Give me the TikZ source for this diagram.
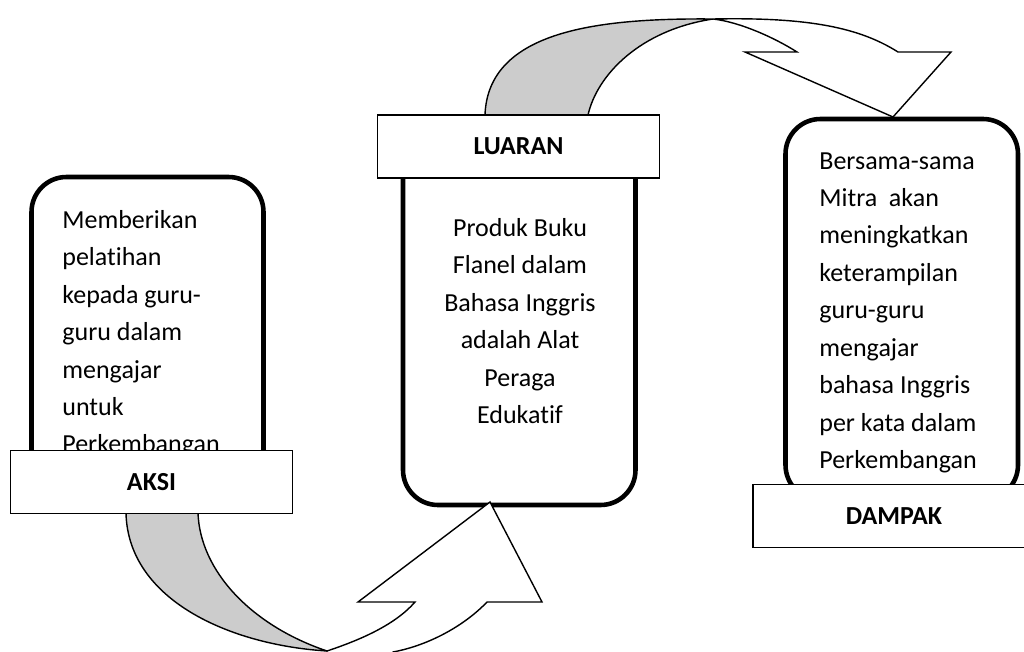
\documentclass[tikz,border=0pt]{standalone}
\usepackage{fontspec}
\setmainfont{Carlito}[Ligatures={NoCommon}]
\definecolor{bandgray}{RGB}{204,204,204}

\begin{document}
\begin{tikzpicture}[x=0.02cm,y=-0.02cm,
  mainbox/.style={draw,line width=2.6pt,rounded corners=0.7cm},
  labelbox/.style={draw,line width=0.8pt,fill=white,minimum width=5.64cm,
    minimum height=1.26cm,font=\fontsize{14.8}{18}\selectfont\bfseries},
  bodytext/.style={inner sep=0pt,font=\fontsize{14.8}{21.3}\selectfont},
  arrowline/.style={draw,line width=0.8pt,line join=miter}]

\path[use as bounding box,clip] (0,0) rectangle (1024,652);

% Rounded boxes
\path[mainbox] (31.5,177) rectangle (263.5,500);
\path[mainbox] (403,140) rectangle (635.5,505);
\path[mainbox] (785.5,119) rectangle (1018,500);

% Box texts
\node[bodytext,anchor=north west,align=left] (aksitext) at (62,210)
  {Memberikan\\pelatihan\\kepada guru-\\guru dalam\\mengajar\\untuk\\Perkembangan};
\node[bodytext,anchor=north,align=center] (luarantext) at (520,218)
  {Produk Buku\\Flanel dalam\\Bahasa Inggris\\adalah Alat\\Peraga\\Edukatif};
\node[bodytext,anchor=north west,align=left] (dampaktext) at (819,152)
  {Bersama-sama\\Mitra\ \ akan\\meningkatkan\\keterampilan\\guru-guru\\mengajar\\bahasa Inggris\\per kata dalam\\Perkembangan};

% Lower curved arrow, grey underside
\path[arrowline,fill=bandgray] (126,513) .. controls (128,600) and (230,645) .. (327,651)
  .. controls (250,625) and (200,570) .. (198,513) -- cycle;
% Lower curved arrow, front face
\path[arrowline,fill=white] (327,651) .. controls (360,640) and (395,625) .. (415,602)
  -- (358,602) -- (490,502) -- (542,602) -- (487,602)
  .. controls (465,625) and (430,645) .. (393,652) -- (393,665) -- (327,665) -- cycle;

% Upper curved arrow, grey underside
\path[arrowline,fill=bandgray] (485,115) .. controls (488,30) and (600,18) .. (713,19)
  .. controls (640,30) and (597,75) .. (588,115) -- cycle;
% Upper curved arrow, front face
\path[arrowline,fill=white] (713,19) .. controls (810,17) and (860,28) .. (898,52)
  -- (951,52) -- (893,117) -- (745,52) -- (797,52)
  .. controls (775,38) and (740,22) .. (713,19) -- cycle;

% Labels
\node[labelbox] (aksi) at (151.5,482) {AKSI};
\node[labelbox] (luaran) at (518.5,146.5) {LUARAN};
\node[labelbox] (dampak) at (894,516) {DAMPAK};

\end{tikzpicture}
\end{document}
